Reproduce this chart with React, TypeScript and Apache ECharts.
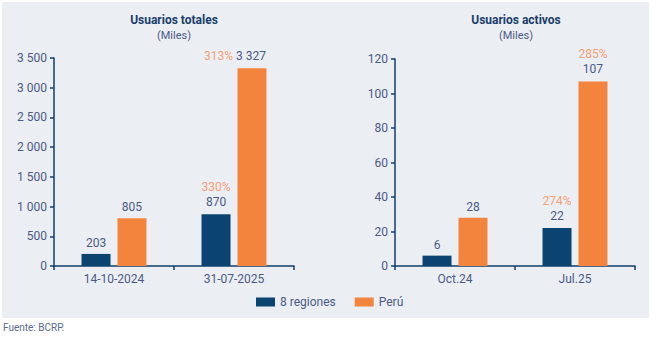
import React, { useEffect, useRef } from "react";
import * as echarts from "echarts";

const seriesNames = ["8 regiones", "Perú"];
const catsTotales = ["14-10-2024", "31-07-2025"];
const regionesTotales = [203, 870];
const peruTotales = [805, 3327];
const pctRegionesTotales: (number | null)[] = [null, 330];
const pctPeruTotales: (number | null)[] = [null, 313];

const catsActivos = ["Oct.24", "Jul.25"];
const regionesActivos = [6, 22];
const peruActivos = [28, 107];
const pctRegionesActivos: (number | null)[] = [null, 274];
const pctPeruActivos: (number | null)[] = [null, 285];

const titles = ["Usuarios totales", "Usuarios activos"];
const subtitle = "(Miles)";
const source = "Fuente: BCRP.";

const BLUE = "#0B4471";
const ORANGE = "#F3843E";
const PCT = "#F4A07A";
const TEXT = "#4B5A85";
const AXIS = "#123F6B";
const FONT = "Roboto, 'Noto Sans', sans-serif";

const fmt = (n: number) => String(n).replace(/\B(?=(\d{3})+(?!\d))/g, " ");

function buildData(values: number[], pcts: (number | null)[], side: "above" | "left") {
  return values.map((v, i) => {
    const p = pcts[i];
    if (p == null) return { value: v };
    if (side === "above") {
      return {
        value: v,
        label: { formatter: `{p|${p}%}\n{v|${fmt(v)}}` },
      };
    }
    return {
      value: v,
      label: { formatter: `{p|${p}%} {v|${fmt(v)}}`, offset: [-17, 0] },
    };
  });
}

const labelCfg = {
  show: true,
  position: "top",
  distance: 5,
  color: TEXT,
  fontSize: 12,
  fontFamily: FONT,
  formatter: (p: any) => fmt(p.value),
  rich: {
    p: { color: PCT, fontSize: 12, fontFamily: FONT, lineHeight: 15 },
    v: { color: TEXT, fontSize: 12, fontFamily: FONT, lineHeight: 15 },
  },
};

export default function App() {
  const ref = useRef<HTMLDivElement>(null);
  useEffect(() => {
    if (!ref.current) return;
    const chart = echarts.init(ref.current, null, { renderer: "svg" });
    const axisCommon = {
      axisLine: { show: true, lineStyle: { color: AXIS, width: 1.5 } },
      axisTick: { show: true, length: 4, lineStyle: { color: AXIS, width: 1.5 } },
      splitLine: { show: false },
      axisLabel: { color: TEXT, fontSize: 12, fontFamily: FONT },
    };
    const barCommon = { type: "bar", barWidth: 29, barGap: "24%", label: labelCfg };
    chart.setOption({
      animation: false,
      backgroundColor: "#ffffff",
      textStyle: { fontFamily: FONT },
      graphic: [
        { type: "rect", z: -10, shape: { x: 2, y: 2, width: 647, height: 316 }, style: { fill: "#EBEEF3" } },
        { type: "text", x: 174, y: 20, style: { text: titles[0], fill: "#1A3D6B", fontSize: 12, fontWeight: "bold", fontFamily: FONT, textAlign: "center", textVerticalAlign: "middle" } },
        { type: "text", x: 174, y: 35, style: { text: subtitle, fill: TEXT, fontSize: 11, fontFamily: FONT, textAlign: "center", textVerticalAlign: "middle" } },
        { type: "text", x: 516, y: 20, style: { text: titles[1], fill: "#1A3D6B", fontSize: 12, fontWeight: "bold", fontFamily: FONT, textAlign: "center", textVerticalAlign: "middle" } },
        { type: "text", x: 516, y: 35, style: { text: subtitle, fill: TEXT, fontSize: 11, fontFamily: FONT, textAlign: "center", textVerticalAlign: "middle" } },
        { type: "text", x: 3, y: 327, style: { text: source, fill: "#5A6A8A", fontSize: 10, fontFamily: FONT, textVerticalAlign: "middle" } },
      ],
      legend: {
        data: seriesNames,
        left: 256,
        top: 296,
        padding: 0,
        itemWidth: 19,
        itemHeight: 9,
        itemGap: 19,
        icon: "rect",
        textStyle: { color: TEXT, fontSize: 12, fontFamily: FONT },
      },
      grid: [
        { left: 54, top: 58, width: 240, height: 208 },
        { left: 395, top: 59, width: 240, height: 207 },
      ],
      xAxis: [
        { type: "category", gridIndex: 0, data: catsTotales, ...axisCommon, axisLabel: { ...axisCommon.axisLabel, margin: 7 } },
        { type: "category", gridIndex: 1, data: catsActivos, ...axisCommon, axisLabel: { ...axisCommon.axisLabel, margin: 7 } },
      ],
      yAxis: [
        { type: "value", gridIndex: 0, min: 0, max: 3500, interval: 500, ...axisCommon, axisLabel: { ...axisCommon.axisLabel, margin: 7, formatter: (v: number) => fmt(v) } },
        { type: "value", gridIndex: 1, min: 0, max: 120, interval: 20, ...axisCommon, axisLabel: { ...axisCommon.axisLabel, margin: 7 } },
      ],
      series: [
        { ...barCommon, name: seriesNames[0], xAxisIndex: 0, yAxisIndex: 0, itemStyle: { color: BLUE }, data: buildData(regionesTotales, pctRegionesTotales, "above") },
        { ...barCommon, name: seriesNames[1], xAxisIndex: 0, yAxisIndex: 0, itemStyle: { color: ORANGE }, data: buildData(peruTotales, pctPeruTotales, "left") },
        { ...barCommon, name: seriesNames[0], xAxisIndex: 1, yAxisIndex: 1, itemStyle: { color: BLUE }, data: buildData(regionesActivos, pctRegionesActivos, "above") },
        { ...barCommon, name: seriesNames[1], xAxisIndex: 1, yAxisIndex: 1, itemStyle: { color: ORANGE }, data: buildData(peruActivos, pctPeruActivos, "above") },
      ],
    });
    return () => chart.dispose();
  }, []);
  return <div ref={ref} style={{ position: "absolute", left: 0, top: 0, width: 651, height: 342 }} />;
}
